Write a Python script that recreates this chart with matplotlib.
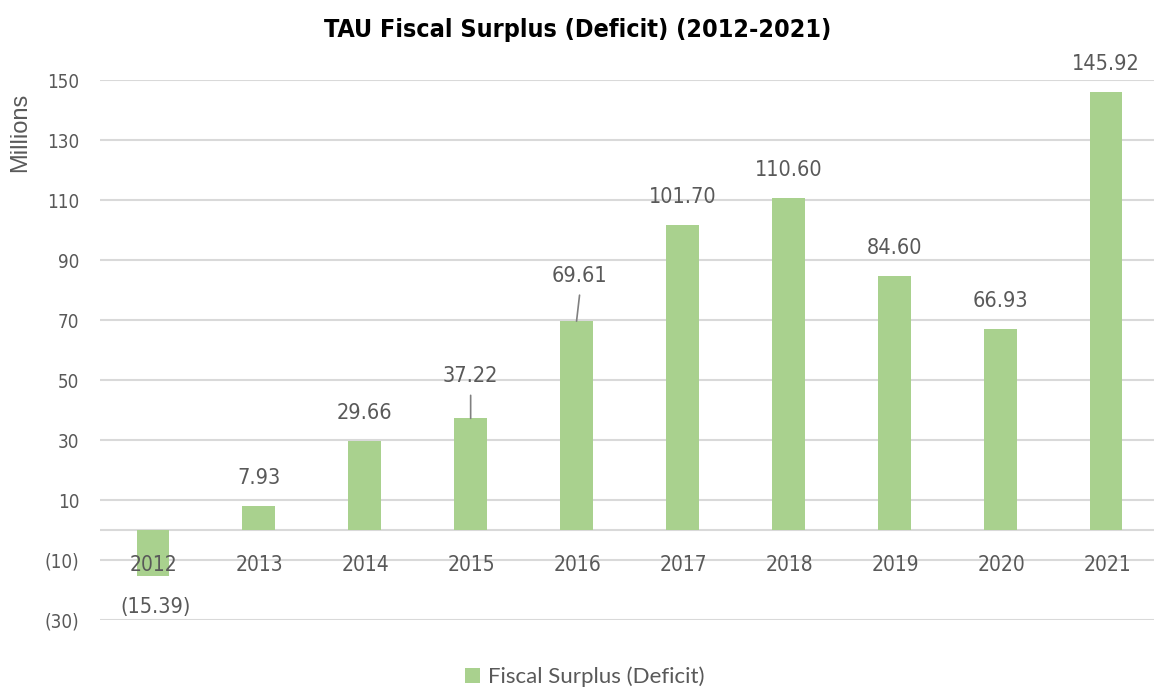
import matplotlib
matplotlib.use("Agg")
import matplotlib.pyplot as plt
from matplotlib import font_manager as fm
from matplotlib.patches import Patch

years = ["2012", "2013", "2014", "2015", "2016", "2017", "2018", "2019", "2020", "2021"]
values = [-15.39, 7.93, 29.66, 37.22, 69.61, 101.70, 110.60, 84.60, 66.93, 145.92]
value_labels = ["(15.39)", "7.93", "29.66", "37.22", "69.61", "101.70", "110.60", "84.60", "66.93", "145.92"]
y_ticks = [-30, -10, 10, 30, 50, 70, 90, 110, 130, 150]
y_tick_labels = ["(30)", "(10)", "10", "30", "50", "70", "90", "110", "130", "150"]
title = "TAU Fiscal Surplus (Deficit) (2012-2021)"
series_name = "Fiscal Surplus (Deficit)"


def find_narrow(bold):
    cands = []
    for f in fm.fontManager.ttflist:
        nm = f.name.lower()
        fn = f.fname.lower()
        narrow = ("narrow" in nm or "condensed" in nm or "narrow" in fn or "condensed" in fn
                  or str(f.stretch).lower() in ("condensed", "semi-condensed", "extra-condensed"))
        if not narrow:
            continue
        if "semicondensed" in fn or "extracondensed" in fn:
            continue
        is_bold = (isinstance(f.weight, int) and f.weight >= 600) or f.weight in ("bold", "heavy", "black", "semibold", "demibold") or "bold" in fn
        if is_bold != bold:
            continue
        if "italic" in fn or "oblique" in fn or f.style != "normal":
            continue
        rank = 0 if "liberation" in nm else (1 if "dejavu" in nm else 2)
        cands.append((rank, f.fname))
    cands.sort()
    return fm.FontProperties(fname=cands[0][1]) if cands else None


names = {f.name for f in fm.fontManager.ttflist}
REG = "Liberation Sans" if "Liberation Sans" in names else "DejaVu Sans"
LEG = "Lato" if "Lato" in names else REG

fp_n = find_narrow(False) or fm.FontProperties(family=REG)
fp_b = find_narrow(True) or fm.FontProperties(family=REG, weight="bold")


def fp(base, size):
    p = base.copy()
    p.set_size(size)
    return p


GREY = "#595959"
BAR = "#A9D18E"
GRID = "#D9D9D9"

W, H = 1154, 690
fig = plt.figure(figsize=(W / 100, H / 100), dpi=100)
ax = fig.add_axes([100 / W, 70 / H, 1054 / W, 540 / H])

x = list(range(len(years)))
ax.bar(x, values, width=0.31, color=BAR, zorder=3)

ax.set_xlim(-0.5, -0.5 + 1054 / 105.9)
ax.set_ylim(-30, 150)
ax.set_yticks(y_ticks)
ax.set_yticklabels(y_tick_labels, fontproperties=fp(fp_n, 13.5), color=GREY)
ax.tick_params(axis="y", length=0, pad=15)
ax.set_xticks([])
for s in ax.spines.values():
    s.set_visible(False)
for t in y_ticks:
    ax.axhline(t, color=GRID, lw=1.5, zorder=1)
ax.axhline(0, color=GRID, lw=1.5, zorder=2)

# year labels just below the zero line
for xi, yr in zip(x, years):
    ax.annotate(yr, (xi, 0), xytext=(1, -35), textcoords="offset pixels",
                ha="center", va="center", fontproperties=fp(fp_n, 15),
                color=GREY, zorder=4)

# data labels
offsets = {3: 42, 4: 45}
for i, (xi, v, lab) in enumerate(zip(x, values, value_labels)):
    if v < 0:
        ax.annotate(lab, (xi, v), xytext=(3, -31), textcoords="offset pixels",
                    ha="center", va="center", fontproperties=fp(fp_n, 15.5),
                    color=GREY, zorder=4)
    else:
        off = offsets.get(i, 28)
        dx = 3 if i == 4 else 0
        ax.annotate(lab, (xi, v), xytext=(dx, off), textcoords="offset pixels",
                    ha="center", va="center", fontproperties=fp(fp_n, 15.5),
                    color=GREY, zorder=4)
        if i in offsets:
            ax.annotate("", (xi, v), xytext=(dx, off - 19), textcoords="offset pixels",
                        arrowprops=dict(arrowstyle="-", color="#808080", lw=1.2,
                                        shrinkA=0, shrinkB=0), zorder=4)

fig.text(578 / W, 1 - 30 / H, title, ha="center", va="center",
         fontproperties=fp(fp_b, 18), color="black")
fig.text(20 / W, 1 - 132 / H, "Millions", ha="center", va="center", rotation=90,
         fontproperties=fm.FontProperties(family=REG, size=17), color=GREY)

handle = Patch(facecolor=BAR, edgecolor="none")
fig.legend([handle], [series_name], loc="center", bbox_to_anchor=(585 / W, 13 / H),
           frameon=False, prop={"family": LEG, "size": 16}, labelcolor=GREY,
           handlelength=0.65, handleheight=0.65, handletextpad=0.4)

fig.savefig("out.png", dpi=100)
